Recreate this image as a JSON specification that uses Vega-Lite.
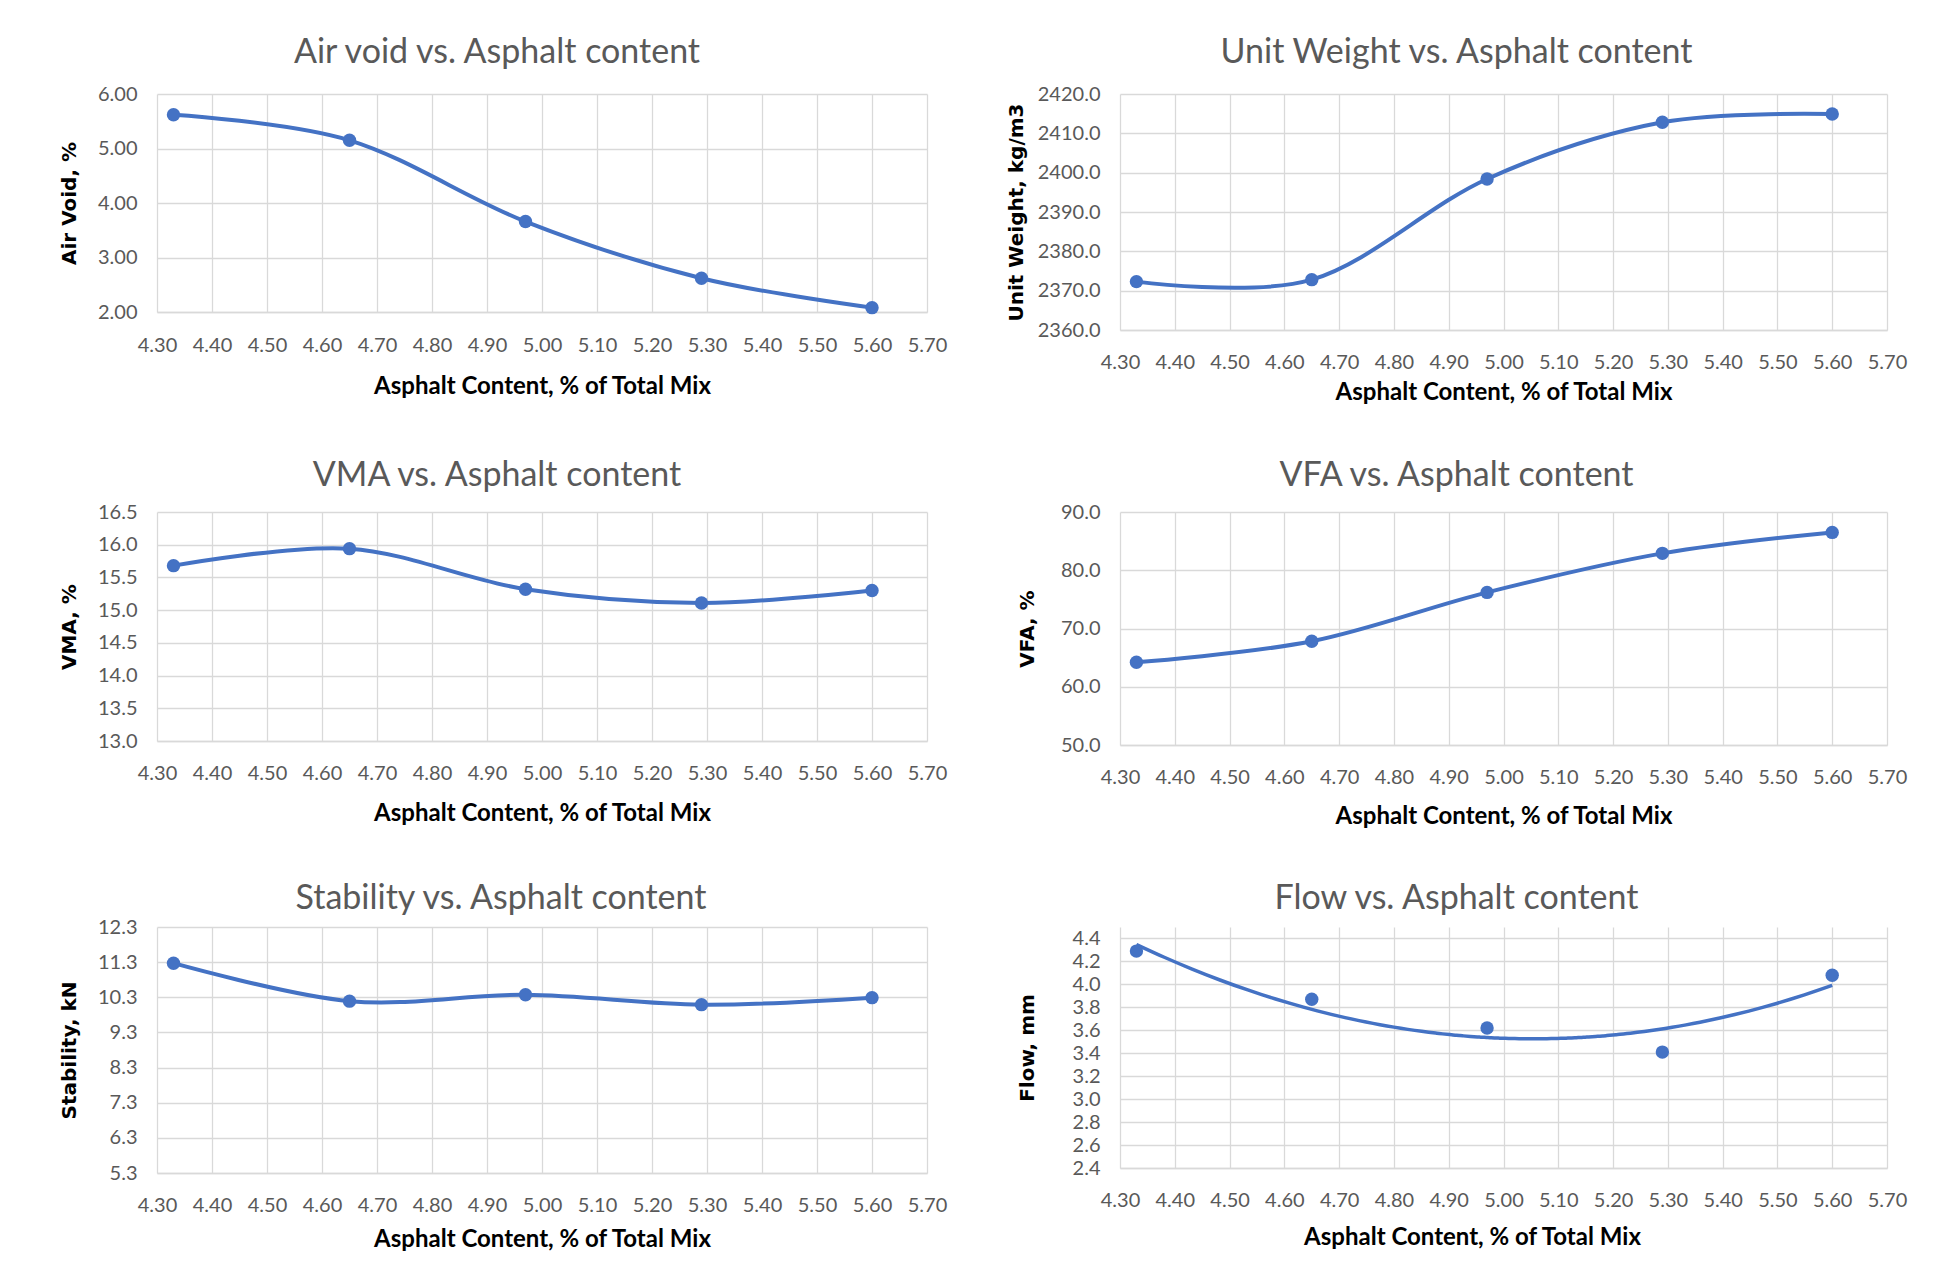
{
  "$schema": "https://vega.github.io/schema/vega-lite/v6.json",
  "background": "white",
  "padding": {"left": 58, "top": 36, "right": 10, "bottom": 10},
  "datasets": {
    "mix": [
      {"ac": 4.33, "airvoid": 5.62, "unitweight": 2372.3, "vma": 15.68, "vfa": 64.2, "stability": 11.27, "flow": 4.29},
      {"ac": 4.65, "airvoid": 5.15, "unitweight": 2372.8, "vma": 15.94, "vfa": 67.8, "stability": 10.19, "flow": 3.87},
      {"ac": 4.97, "airvoid": 3.66, "unitweight": 2398.4, "vma": 15.32, "vfa": 76.2, "stability": 10.37, "flow": 3.62},
      {"ac": 5.29, "airvoid": 2.62, "unitweight": 2412.8, "vma": 15.11, "vfa": 82.9, "stability": 10.09, "flow": 3.41},
      {"ac": 5.60, "airvoid": 2.08, "unitweight": 2414.9, "vma": 15.30, "vfa": 86.5, "stability": 10.29, "flow": 4.08}
    ]
  },
  "config": {
    "view": {"stroke": null},
    "font": "Lato",
    "title": {"font": "Lato", "fontSize": 34, "fontWeight": "normal", "color": "#595959", "anchor": "middle", "frame": "group", "baseline": "bottom", "offset": 14},
    "axis": {
      "labelFont": "Lato", "labelFontSize": 20, "labelColor": "#595959",
      "gridColor": "#D9D9D9", "gridWidth": 1.3, "ticks": false, "domain": false,
      "titleFontWeight": "bold", "titleColor": "#000000"
    },
    "axisX": {"domain": true, "domainColor": "#D9D9D9", "domainWidth": 1.5, "labelPadding": 22, "titleFont": "Lato", "titleFontSize": 24, "titlePadding": 18, "labelFlush": false},
    "axisY": {"labelPadding": 20, "titleFont": "DejaVu Sans", "titleFontSize": 20, "titleX": -88, "titleBaseline": "middle"}
  },
  "columns": 2,
  "bounds": "flush",
  "spacing": {"row": 182, "column": 193},
  "concat": [
    {
      "width": 770, "height": 218,
      "title": {"text": "Air void vs. Asphalt content", "dx": -45, "offset": 14},
      "data": {"name": "mix"},
      "encoding": {
        "x": {"field": "ac", "type": "quantitative", "scale": {"domain": [4.3, 5.7], "nice": false, "zero": false},
              "axis": {"title": "Asphalt Content, % of Total Mix", "values": [4.3,4.4,4.5,4.6,4.7,4.8,4.9,5.0,5.1,5.2,5.3,5.4,5.5,5.6,5.7], "format": ".2f", "labelPadding": 23, "titlePadding": 19}},
        "y": {"field": "airvoid", "type": "quantitative", "scale": {"domain": [2, 6], "nice": false, "zero": false},
              "axis": {"title": "Air Void, %", "values": [2,3,4,5,6], "format": ".2f"}}
      },
      "layer": [
        {"mark": {"type": "line", "interpolate": "cardinal", "color": "#4472C4", "strokeWidth": 4}},
        {"mark": {"type": "point", "filled": true, "size": 180, "color": "#4472C4", "opacity": 1}}
      ]
    },
    {
      "width": 767, "height": 236,
      "title": {"text": "Unit Weight vs. Asphalt content", "dx": -47, "offset": 14},
      "data": {"name": "mix"},
      "encoding": {
        "x": {"field": "ac", "type": "quantitative", "scale": {"domain": [4.3, 5.7], "nice": false, "zero": false},
              "axis": {"title": "Asphalt Content, % of Total Mix", "values": [4.3,4.4,4.5,4.6,4.7,4.8,4.9,5.0,5.1,5.2,5.3,5.4,5.5,5.6,5.7], "format": ".2f", "titlePadding": 8}},
        "y": {"field": "unitweight", "type": "quantitative", "scale": {"domain": [2360, 2420], "nice": false, "zero": false},
              "axis": {"title": "Unit Weight, kg/m3", "values": [2360,2370,2380,2390,2400,2410,2420], "format": ".1f", "titleX": -104}}
      },
      "layer": [
        {"mark": {"type": "line", "interpolate": "cardinal", "color": "#4472C4", "strokeWidth": 4}},
        {"mark": {"type": "point", "filled": true, "size": 180, "color": "#4472C4", "opacity": 1}}
      ]
    },
    {
      "width": 770, "height": 229,
      "title": {"text": "VMA vs. Asphalt content", "dx": -45, "offset": 9},
      "data": {"name": "mix"},
      "encoding": {
        "x": {"field": "ac", "type": "quantitative", "scale": {"domain": [4.3, 5.7], "nice": false, "zero": false},
              "axis": {"title": "Asphalt Content, % of Total Mix", "values": [4.3,4.4,4.5,4.6,4.7,4.8,4.9,5.0,5.1,5.2,5.3,5.4,5.5,5.6,5.7], "format": ".2f", "titlePadding": 18}},
        "y": {"field": "vma", "type": "quantitative", "scale": {"domain": [13, 16.5], "nice": false, "zero": false},
              "axis": {"title": "VMA, %", "values": [13,13.5,14,14.5,15,15.5,16,16.5], "format": ".1f"}}
      },
      "layer": [
        {"mark": {"type": "line", "interpolate": "cardinal", "color": "#4472C4", "strokeWidth": 4}},
        {"mark": {"type": "point", "filled": true, "size": 180, "color": "#4472C4", "opacity": 1}}
      ]
    },
    {
      "width": 767, "height": 233,
      "title": {"text": "VFA vs. Asphalt content", "dx": -47, "offset": 9},
      "data": {"name": "mix"},
      "encoding": {
        "x": {"field": "ac", "type": "quantitative", "scale": {"domain": [4.3, 5.7], "nice": false, "zero": false},
              "axis": {"title": "Asphalt Content, % of Total Mix", "values": [4.3,4.4,4.5,4.6,4.7,4.8,4.9,5.0,5.1,5.2,5.3,5.4,5.5,5.6,5.7], "format": ".2f", "titlePadding": 17}},
        "y": {"field": "vfa", "type": "quantitative", "scale": {"domain": [50, 90], "nice": false, "zero": false},
              "axis": {"title": "VFA, %", "values": [50,60,70,80,90], "format": ".1f", "titleX": -93}}
      },
      "layer": [
        {"mark": {"type": "line", "interpolate": "cardinal", "color": "#4472C4", "strokeWidth": 4}},
        {"mark": {"type": "point", "filled": true, "size": 180, "color": "#4472C4", "opacity": 1}}
      ]
    },
    {
      "width": 770, "height": 246,
      "title": {"text": "Stability vs. Asphalt content", "dx": -41, "offset": 1},
      "data": {"name": "mix"},
      "encoding": {
        "x": {"field": "ac", "type": "quantitative", "scale": {"domain": [4.3, 5.7], "nice": false, "zero": false},
              "axis": {"title": "Asphalt Content, % of Total Mix", "values": [4.3,4.4,4.5,4.6,4.7,4.8,4.9,5.0,5.1,5.2,5.3,5.4,5.5,5.6,5.7], "format": ".2f", "titlePadding": 12}},
        "y": {"field": "stability", "type": "quantitative", "scale": {"domain": [5.3, 12.3], "nice": false, "zero": false},
              "axis": {"title": "Stability, kN", "values": [5.3,6.3,7.3,8.3,9.3,10.3,11.3,12.3], "format": ".1f"}}
      },
      "layer": [
        {"mark": {"type": "line", "interpolate": "cardinal", "color": "#4472C4", "strokeWidth": 4}},
        {"mark": {"type": "point", "filled": true, "size": 180, "color": "#4472C4", "opacity": 1}}
      ]
    },
    {
      "width": 767, "height": 241,
      "title": {"text": "Flow vs. Asphalt content", "dx": -47, "offset": 11},
      "data": {"name": "mix"},
      "encoding": {
        "x": {"field": "ac", "type": "quantitative", "scale": {"domain": [4.3, 5.7], "nice": false, "zero": false},
              "axis": {"title": "Asphalt Content, % of Total Mix", "values": [4.3,4.4,4.5,4.6,4.7,4.8,4.9,5.0,5.1,5.2,5.3,5.4,5.5,5.6,5.7], "format": ".2f", "titleX": 352, "titlePadding": 15}},
        "y": {"field": "flow", "type": "quantitative", "scale": {"domain": [2.4, 4.5], "nice": false, "zero": false},
              "axis": {"title": "Flow, mm", "values": [2.4,2.6,2.8,3.0,3.2,3.4,3.6,3.8,4.0,4.2,4.4], "format": ".1f", "titleX": -93}}
      },
      "layer": [
        {"transform": [{"regression": "flow", "on": "ac", "method": "poly", "order": 2, "extent": [4.33, 5.6]}],
         "mark": {"type": "line", "interpolate": "monotone", "color": "#4472C4", "strokeWidth": 3.5}},
        {"mark": {"type": "point", "filled": true, "size": 180, "color": "#4472C4", "opacity": 1}}
      ]
    }
  ]
}
